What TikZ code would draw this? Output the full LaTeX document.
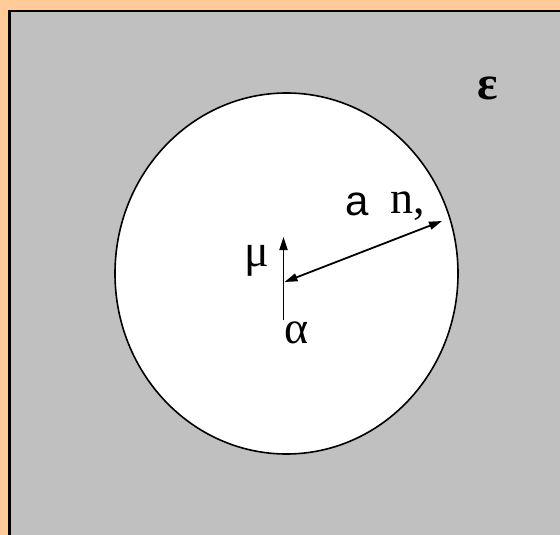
\documentclass[tikz,border=0pt]{standalone}
\usepackage{fontspec}
\setmainfont{Liberation Serif}
\newfontfamily\lsans{Liberation Sans}
\usetikzlibrary{arrows.meta}
\definecolor{peach}{RGB}{255,204,153}
\definecolor{panel}{RGB}{192,192,192}
\tikzset{
  lbl/.style={inner sep=0pt, font=\fontsize{46}{46}\selectfont},
  tip/.style={Stealth[length=13pt,width=9pt,inset=0pt]},
  conn/.style={line width=1.8pt, -{Triangle[length=13pt,width=8pt]}},
  dconn/.style={line width=1.8pt, {Triangle[length=13pt,width=8pt]}-{Triangle[length=13pt,width=8pt]}}
}
\begin{document}
\begin{tikzpicture}[x=1pt,y=-1pt]
\useasboundingbox (0,0) rectangle (560,535);
\fill[peach] (0,0) rectangle (560,535);
\begin{scope}
\clip (0,0) rectangle (560,535);
\draw[fill=panel, line width=2.2pt] (9.5,11) rectangle (570,545);
\end{scope}
\draw[fill=white, line width=1.6pt] (286.5,273.5) ellipse [x radius=171.5, y radius=180.5];
\coordinate (vb) at (283.5,320);
\coordinate (vt) at (283.5,237);
\coordinate (ra) at (284.5,282);
\coordinate (rb) at (442,221);
\draw[conn] (vb) -- (vt);
\draw[dconn] (ra) -- (rb);
\node[lbl] (mu) at (257,261) {μ};
\node[lbl] (al) at (297,333) {α};
\node[lbl, font=\lsans\fontsize{42}{42}\selectfont] (a) at (357,204) {a};
\node[lbl] (n) at (408,206) {n,};
\node[lbl, font=\bfseries\fontsize{48}{48}\selectfont] (eps) at (488,88) {ε};
\end{tikzpicture}
\end{document}
